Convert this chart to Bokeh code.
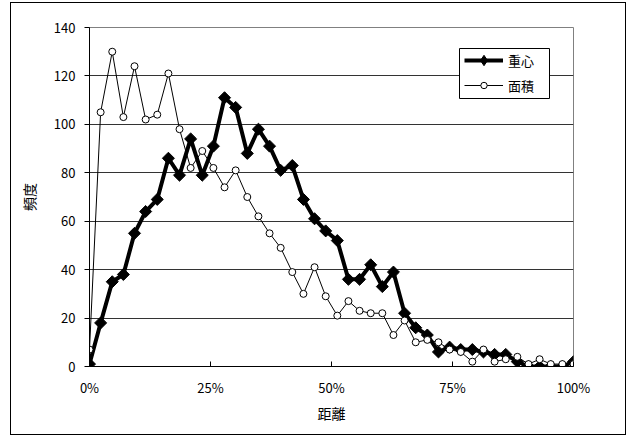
import math
from bokeh.plotting import figure
from bokeh.models import Range1d, FixedTicker, Legend, LegendItem, BoxAnnotation
from bokeh.embed import file_html
from bokeh.resources import INLINE

# distance (% of max), 44 evenly spaced bins
distance_pct = [0.0, 2.3, 4.7, 7.0, 9.3, 11.6, 14.0, 16.3, 18.6, 20.9, 23.3,
                25.6, 27.9, 30.2, 32.6, 34.9, 37.2, 39.5, 41.9, 44.2, 46.5,
                48.8, 51.2, 53.5, 55.8, 58.1, 60.5, 62.8, 65.1, 67.4, 69.8,
                72.1, 74.4, 76.7, 79.1, 81.4, 83.7, 86.0, 88.4, 90.7, 93.0,
                95.3, 97.7, 100.0]

# 重心 (centre of gravity)
juushin = [1, 18, 35, 38, 55, 64, 69, 86, 79, 94, 79, 91, 111, 107, 88,
           98, 91, 81, 83, 69, 61, 56, 52, 36, 36, 42, 33, 39, 22, 16,
           13, 6, 8, 7, 7, 6, 5, 5, 2, 0, 0, 0, 0, 2]

# 面積 (area)
menseki = [7, 105, 130, 103, 124, 102, 104, 121, 98, 82, 89, 82, 74, 81, 70,
           62, 55, 49, 39, 30, 41, 29, 21, 27, 23, 22, 22, 13, 19, 10,
           11, 10, 7, 6, 2, 7, 2, 3, 4, 1, 3, 1, 1, 1]

x_ticks = [0, 25, 50, 75, 100]
x_tick_labels = ["0%", "25%", "50%", "75%", "100%"]
y_ticks = [0, 20, 40, 60, 80, 100, 120, 140]

FONT = "Noto Sans CJK JP"

p = figure(width=616, height=433, output_backend="svg", toolbar_location=None,
           x_range=Range1d(0, 100), y_range=Range1d(0, 140),
           min_border_left=78, min_border_right=54,
           min_border_top=24, min_border_bottom=70,
           background_fill_color="white", border_fill_color="white")
p.styles = {"border": "1px solid black", "margin-left": "10px", "margin-top": "2px"}

p.outline_line_color = "#808080"
p.outline_line_width = 1

# axes
p.xaxis.ticker = FixedTicker(ticks=x_ticks)
p.xaxis.major_label_overrides = {t: l for t, l in zip(x_ticks, x_tick_labels)}
p.yaxis.ticker = FixedTicker(ticks=y_ticks)
p.xaxis.axis_label = "距離"
p.yaxis.axis_label = "頻度"
for ax in (p.xaxis[0], p.yaxis[0]):
    ax.axis_line_color = "black"
    ax.major_tick_line_color = "black"
    ax.minor_tick_line_color = None
    ax.major_label_text_font = FONT
    ax.major_label_text_font_size = "13px"
    ax.major_label_text_color = "black"
    ax.axis_label_text_font = FONT
    ax.axis_label_text_font_size = "14px"
    ax.axis_label_text_font_style = "normal"
    ax.axis_label_text_color = "black"
p.xaxis.major_tick_in = 5
p.xaxis.major_tick_out = 0
p.xaxis.major_label_standoff = 11
p.xaxis.axis_label_standoff = 3
p.yaxis.major_tick_in = 0
p.yaxis.major_tick_out = 5
p.yaxis.major_label_standoff = 9
p.yaxis.axis_label_standoff = 12

p.xgrid.visible = False
p.ygrid.ticker = FixedTicker(ticks=y_ticks)
p.ygrid.grid_line_color = "#333333"
p.ygrid.grid_line_width = 1

# series
l1 = p.line(distance_pct, juushin, line_width=4, line_color="black")
s1 = p.scatter(distance_pct, juushin, marker="square", angle=math.pi / 4,
               size=8.5, fill_color="black", line_color="black")
l2 = p.line(distance_pct, menseki, line_width=1, line_color="black")
s2 = p.scatter(distance_pct, menseki, marker="circle", size=7,
               fill_color="white", line_color="black", line_width=1)
# legend-only diamond glyph (single point placed outside the visible range)
d_leg = p.scatter(x=[-1000], y=[-1000], marker="diamond", size=13,
                  fill_color="black", line_color="black")

# legend frame (screen units, relative to the plot frame)
box = BoxAnnotation(left=370, right=460, bottom=268, top=318,
                    left_units="screen", right_units="screen",
                    bottom_units="screen", top_units="screen",
                    fill_color="white", fill_alpha=1,
                    line_color="black", line_width=1, line_alpha=1)
p.add_layout(box)


def make_legend(item, loc, gh, lh):
    lg = Legend(items=[item], location=loc)
    lg.label_text_font = FONT
    lg.label_text_font_size = "13px"
    lg.label_text_color = "black"
    lg.glyph_width = 39
    lg.glyph_height = gh
    lg.label_height = lh
    lg.label_width = 36
    lg.label_standoff = 5
    lg.spacing = 0
    lg.padding = 0
    lg.margin = 0
    lg.border_line_color = None
    lg.background_fill_alpha = 0
    return lg


p.add_layout(make_legend(LegendItem(label="重心", renderers=[l1, d_leg]), (375, 293), 26, 26))
p.add_layout(make_legend(LegendItem(label="面積", renderers=[l2, s2]), (375, 271), 16, 20))

open("out.html", "w").write(file_html(p, INLINE))
